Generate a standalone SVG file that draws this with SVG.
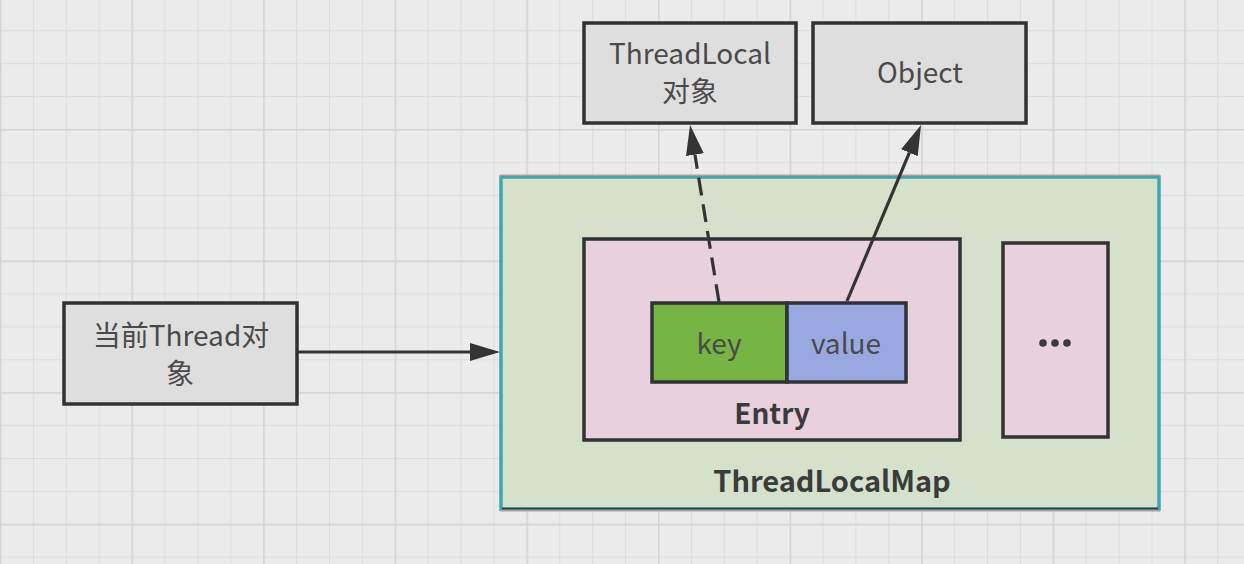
<svg xmlns="http://www.w3.org/2000/svg" width="1244" height="564" viewBox="0 0 1244 564">
<style>
.box{stroke:#2f3333;stroke-width:3.5}
.gray{fill:#dfdede}
.t{font-family:"Noto Sans CJK SC","Noto Sans",sans-serif;font-size:28px;fill:#4a4a4a;text-anchor:middle}
.b{font-family:"Noto Sans CJK SC","Noto Sans",sans-serif;font-size:28px;font-weight:bold;fill:#3a3c3c;text-anchor:middle}
.conn{stroke:#333535;stroke-width:3.2;fill:none}
</style>
<defs>
<pattern id="minor" width="32.9" height="32.9" patternUnits="userSpaceOnUse" x="0" y="-2.6">
<path d="M0,0 H32.9 M0,0 V32.9" stroke="#dcdcdc" stroke-width="2" fill="none"/>
</pattern>
<pattern id="major" width="131.6" height="131.6" patternUnits="userSpaceOnUse" x="0" y="-2.6">
<path d="M0,0 H131.6 M0,0 V131.6" stroke="#d4d4d4" stroke-width="3" fill="none"/>
</pattern>
<marker id="arr" viewBox="0 0 30 20" refX="0" refY="10" markerWidth="30" markerHeight="20" markerUnits="userSpaceOnUse" orient="auto">
<path d="M0,1 L30,10 L0,19 Z" fill="#333535"/>
</marker>
</defs>
<rect width="1244" height="564" fill="#ebebeb"/>
<rect width="1244" height="564" fill="url(#minor)"/>
<rect width="1244" height="564" fill="url(#major)"/>

<g id="threadlocalmap">
<rect x="501" y="177" width="658" height="332" fill="#d5e1cb" stroke="#3fa7ad" stroke-width="3.5"/>
<line x1="500" y1="175" x2="1160" y2="175" stroke="#e08a8a" stroke-width="1"/>
<line x1="500" y1="511" x2="1160" y2="511" stroke="#e08a8a" stroke-width="1"/>
<line x1="502" y1="508.5" x2="1158" y2="508.5" stroke="#2f3b3b" stroke-width="1.5"/>
<text class="b" x="832" y="492" style="font-size:29px">ThreadLocalMap</text>
</g>

<g id="entry">
<rect class="box" x="584" y="239" width="376" height="201" fill="#e8d1dc"/>
<text class="b" x="772" y="424">Entry</text>
</g>

<g id="key">
<rect class="box" x="652" y="303" width="135" height="79" fill="#76b443"/>
<text class="t" x="719" y="354">key</text>
</g>

<g id="value">
<rect class="box" x="787" y="303" width="119" height="79" fill="#9aa8e2"/>
<text class="t" x="846" y="354">value</text>
</g>

<g id="more">
<rect class="box" x="1003" y="243" width="105" height="194" fill="#e8d1dc"/>
<circle cx="1043" cy="343" r="3.8" fill="#3a3c3c"/>
<circle cx="1055" cy="343" r="3.8" fill="#3a3c3c"/>
<circle cx="1067" cy="343" r="3.8" fill="#3a3c3c"/>
</g>

<g id="threadlocal">
<rect class="box gray" x="584" y="23" width="212" height="100"/>
<text class="t" x="690" y="64">ThreadLocal</text>
<text class="t" x="690" y="102">对象</text>
</g>

<g id="object">
<rect class="box gray" x="813" y="23" width="213" height="100"/>
<text class="t" x="920" y="83">Object</text>
</g>

<g id="thread">
<rect class="box gray" x="64" y="303" width="233" height="101"/>
<text class="t" x="181" y="346">当前Thread对</text>
<text class="t" x="180" y="384">象</text>
</g>

<g id="connectors">
<line class="conn" x1="298" y1="352" x2="470" y2="352" marker-end="url(#arr)"/>
<line class="conn" x1="719" y1="302" x2="694.9" y2="154.6" stroke-dasharray="18 9" marker-end="url(#arr)"/>
<line class="conn" x1="847" y1="301" x2="909.4" y2="152.7" marker-end="url(#arr)"/>
</g>
</svg>
